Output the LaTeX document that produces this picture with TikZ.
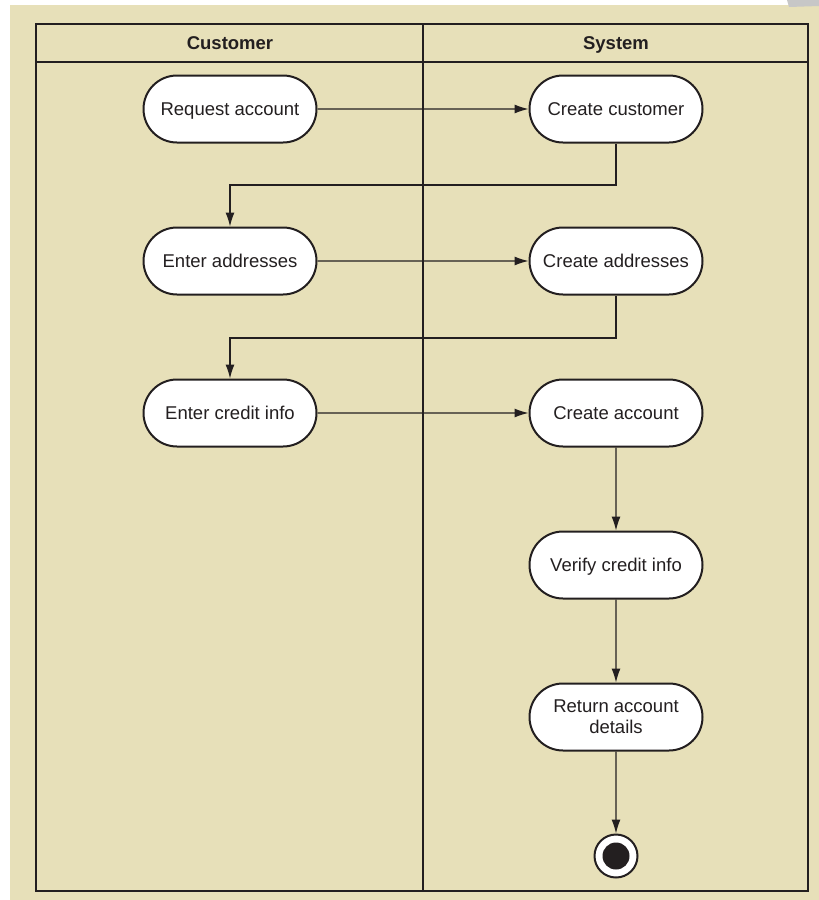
\documentclass[tikz,border=0pt]{standalone}
\usepackage{fontspec}
\setmainfont{Liberation Sans}
\usetikzlibrary{arrows.meta,shapes.misc}
\definecolor{paper}{HTML}{E7E0B9}
\definecolor{ink}{HTML}{231F20}
\tikzset{
  action/.style={rounded rectangle, draw=ink, line width=2pt, fill=white,
    minimum width=177pt, minimum height=67pt, inner sep=2pt, align=center,
    text height=16pt, text depth=4pt,
    text=ink, font=\fontsize{18.5}{22}\selectfont},
  lanehead/.style={text=ink, text height=16pt, text depth=4pt,
    font=\fontsize{18.5}{22}\selectfont\bfseries},
  flow/.style={draw=ink, line width=1.1pt, -{Latex[length=14pt,width=9pt]}},
  frame/.style={draw=ink, line width=2.4pt}
}
\begin{document}
\begin{tikzpicture}[x=1pt,y=-1pt]
  % page and paper
  \useasboundingbox (0,0) rectangle (819,900);
  \fill[white] (0,0) rectangle (819,900);
  \fill[paper] (10,5) rectangle (819,900);
  \fill[black!22] (787,0) -- (819,0) -- (819,6) -- (789,7) -- cycle;

  % swimlane frame
  \draw[frame] (36,24) rectangle (808,891);
  \draw[frame] (36,62) -- (808,62);
  \draw[frame] (423,24) -- (423,891);
  \node[lanehead] (hcust) at (230,43) {Customer};
  \node[lanehead] (hsys) at (616,43) {System};

  % customer actions
  \node[action] (req) at (230,109) {Request account};
  \node[action] (eaddr) at (230,261) {Enter addresses};
  \node[action] (ecred) at (230,413) {Enter credit info};

  % system actions
  \node[action] (ccust) at (616,109) {Create customer};
  \node[action] (caddr) at (616,261) {Create addresses};
  \node[action] (cacc) at (616,413) {Create account};
  \node[action] (verify) at (616,565) {Verify credit info};
  \node[action, text height=, text depth=] (ret) at (616,717) {Return account\\[-1pt]details};

  % final node
  \node[circle, draw=ink, line width=2pt, fill=white, minimum size=43pt, inner sep=0pt] (final) at (616,856) {};
  \fill[ink] (final.center) circle (13.5);

  % control flow
  \draw[flow] (req) -- (ccust);
  \draw[flow] (ccust.south) -- (616,185) -- (230,185) -- (eaddr.north);
  \draw[flow] (eaddr) -- (caddr);
  \draw[flow] (caddr.south) -- (616,338) -- (230,338) -- (ecred.north);
  \draw[flow] (ecred) -- (cacc);
  \draw[flow] (cacc) -- (verify);
  \draw[flow] (verify) -- (ret);
  \draw[flow] (ret) -- (final);
\end{tikzpicture}
\end{document}
